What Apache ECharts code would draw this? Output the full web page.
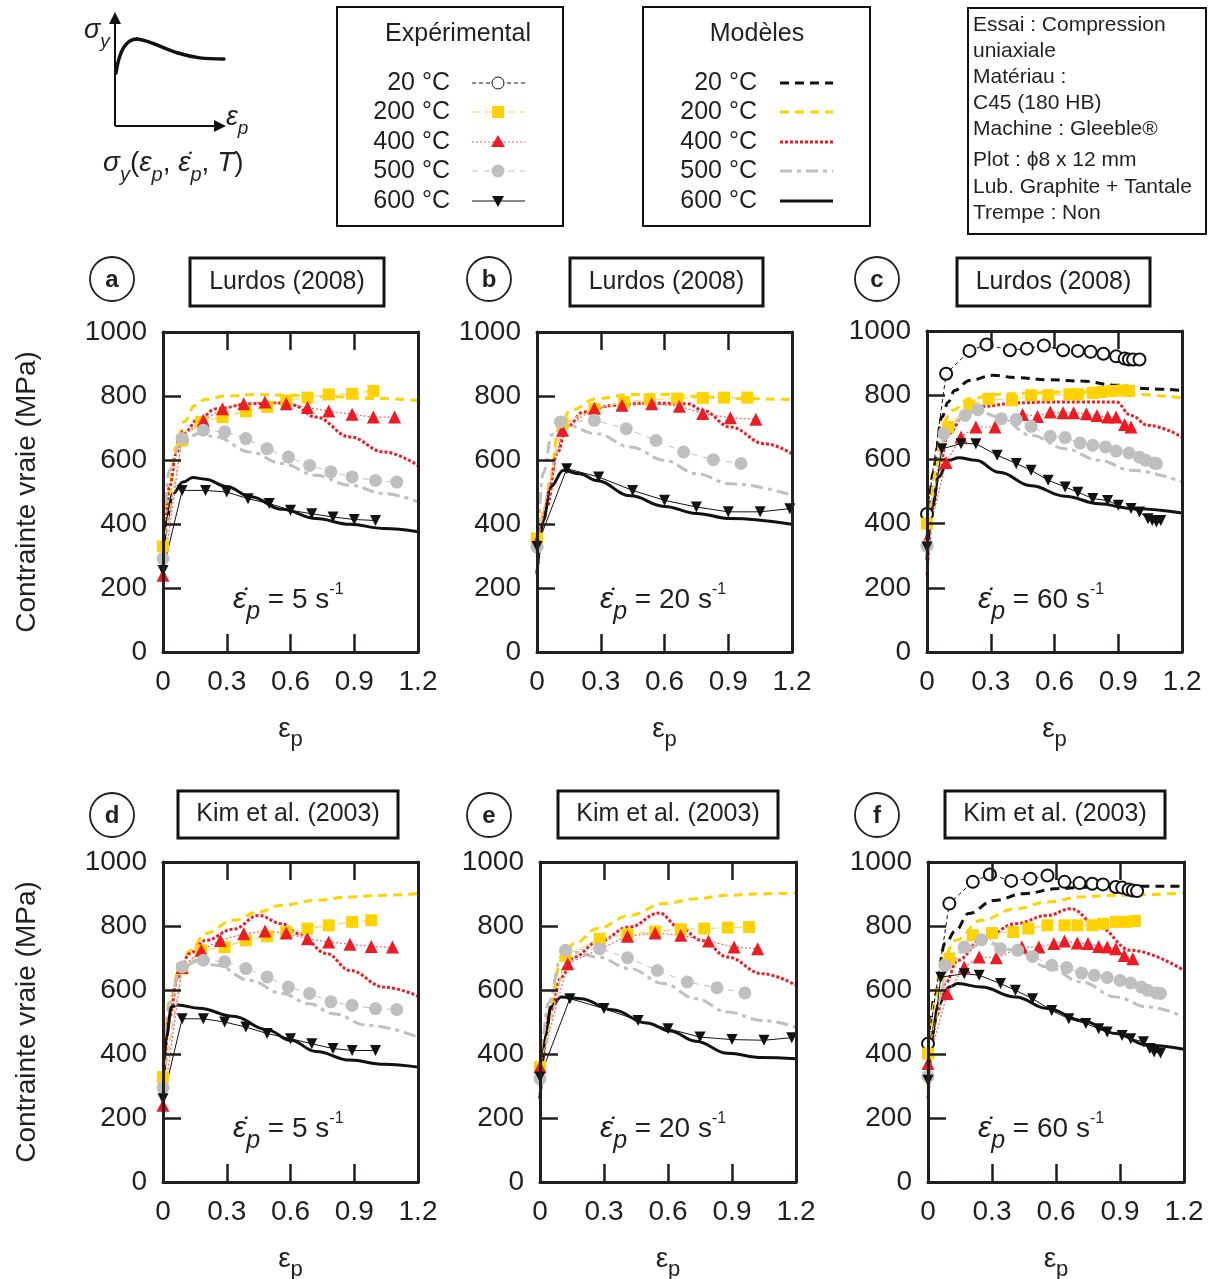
<!DOCTYPE html>
<html><head><meta charset="utf-8">
<script src="https://cdn.jsdelivr.net/npm/echarts@6/dist/echarts.min.js"></script>
<style>html,body{margin:0;padding:0;background:#fff}#c{position:relative;width:1220px;height:1279px;background:#fff}</style>
</head><body><div id="c"></div><script>
// ---------- axis ticks ----------
const xMin = 0, xMax = 1.2, xStep = 0.3;
const yMin = 0, yMax = 1000, yStep = 200;
const panelLetters = ['a','b','c','d','e','f'];
const panelTitles = ['Lurdos (2008)','Lurdos (2008)','Lurdos (2008)','Kim et al. (2003)','Kim et al. (2003)','Kim et al. (2003)'];
const strainRates = ['5','20','60','5','20','60'];
const temps = ['20 °C','200 °C','400 °C','500 °C','600 °C'];
const yAxisTitle = 'Contrainte vraie (MPa)';

// ---------- panel a (Lurdos, 5 s-1) ----------
const a_exp200 = [[0,330],[0.09,661],[0.18,719],[0.28,734],[0.39,752],[0.49,766],[0.58,786],[0.68,795],[0.78,805],[0.89,807],[0.99,816]];
const a_mod200 = [[0,300],[0.03,500],[0.06,640],[0.1,720],[0.15,770],[0.2,790],[0.3,800],[0.45,805],[0.6,802],[0.8,798],[1.0,792],[1.2,786]];
const a_exp400 = [[0,240],[0.09,675],[0.19,724],[0.28,760],[0.38,776],[0.48,781],[0.58,776],[0.68,764],[0.78,753],[0.89,743],[0.99,734],[1.09,734]];
const a_mod400 = [[0,240],[0.03,515],[0.063,620],[0.094,682],[0.17,729],[0.25,760],[0.41,776],[0.56,778],[0.61,772],[0.72,734],[0.88,672],[1.04,625],[1.2,583]];
const a_exp500 = [[0,292],[0.09,667],[0.19,693],[0.29,688],[0.39,667],[0.49,635],[0.59,609],[0.69,583],[0.79,563],[0.89,547],[1.0,536],[1.1,531]];
const a_mod500 = [[0,300],[0.03,568],[0.08,651],[0.17,682],[0.25,672],[0.41,625],[0.56,589],[0.72,552],[0.88,521],[1.04,495],[1.2,469]];
const a_exp600 = [[0,255],[0.09,505],[0.2,505],[0.3,500],[0.4,479],[0.5,464],[0.6,443],[0.7,432],[0.8,422],[0.9,414],[1.0,411]];
const a_mod600 = [[0,260],[0.016,411],[0.047,495],[0.094,531],[0.14,545],[0.2,540],[0.3,517],[0.41,486],[0.56,446],[0.72,417],[0.88,399],[1.04,386],[1.2,376]];

// ---------- panel b (Lurdos, 20 s-1) ----------
const b_exp200 = [[0,355],[0.12,714],[0.27,760],[0.41,781],[0.53,789],[0.66,792],[0.78,794],[0.88,795],[0.99,795]];
const b_mod200 = [[0,320],[0.04,450],[0.063,547],[0.1,693],[0.157,755],[0.28,792],[0.44,805],[0.6,805],[0.75,799],[0.91,792],[1.2,789]];
const b_exp400 = [[0,345],[0.12,693],[0.27,762],[0.4,771],[0.54,776],[0.67,768],[0.78,745],[0.91,732],[1.03,727]];
const b_mod400 = [[0,245],[0.047,453],[0.094,620],[0.14,703],[0.22,750],[0.36,771],[0.52,778],[0.71,776],[0.78,755],[0.91,703],[1.07,651],[1.2,620]];
const b_exp500 = [[0,328],[0.11,719],[0.27,724],[0.42,698],[0.56,661],[0.69,625],[0.83,601],[0.96,589]];
const b_mod500 = [[0,300],[0.03,560],[0.07,680],[0.14,708],[0.28,682],[0.44,641],[0.6,599],[0.75,557],[0.91,526],[1.2,490]];
const b_exp600 = [[0,330],[0.14,573],[0.29,547],[0.45,505],[0.6,474],[0.75,453],[0.9,438],[1.05,438],[1.19,448]];
const b_mod600 = [[0,245],[0.03,411],[0.063,516],[0.125,568],[0.2,557],[0.28,536],[0.44,488],[0.6,455],[0.75,433],[0.91,417],[1.2,399]];

// ---------- panel c (Lurdos, 60 s-1) ----------
const c_exp20 = [[0,430],[0.09,867],[0.2,938],[0.28,958],[0.39,940],[0.47,945],[0.55,955],[0.64,940],[0.71,938],[0.77,935],[0.83,929],[0.89,921],[0.93,914],[0.95,911],[0.97,911],[1.0,911]];
const c_mod20 = [[0,350],[0.03,560],[0.07,732],[0.1,779],[0.13,815],[0.2,846],[0.31,862],[0.42,855],[0.57,848],[0.73,844],[0.89,831],[1.04,820],[1.2,815]];
const c_exp200 = [[0,400],[0.1,701],[0.2,768],[0.29,789],[0.4,784],[0.49,800],[0.57,800],[0.67,803],[0.71,803],[0.78,807],[0.82,810],[0.87,813],[0.92,815],[0.95,813]];
const c_mod200 = [[0,300],[0.04,560],[0.07,711],[0.12,753],[0.2,789],[0.34,803],[0.49,807],[0.65,810],[0.81,810],[0.96,803],[1.2,792]];
const c_exp400 = [[0,350],[0.09,590],[0.16,670],[0.23,701],[0.32,701],[0.45,740],[0.52,734],[0.58,748],[0.64,745],[0.69,745],[0.75,742],[0.8,737],[0.85,732],[0.89,732],[0.93,709],[0.96,701]];
const c_mod400 = [[0,240],[0.03,450],[0.055,566],[0.1,680],[0.18,742],[0.26,765],[0.42,776],[0.57,779],[0.73,779],[0.89,779],[0.96,737],[1.04,706],[1.2,670]];
const c_exp500 = [[0,330],[0.08,680],[0.18,737],[0.24,755],[0.35,727],[0.42,724],[0.49,703],[0.58,672],[0.65,668],[0.72,651],[0.78,644],[0.84,639],[0.89,626],[0.95,620],[1.0,607],[1.03,597],[1.07,589],[1.08,587]];
const c_mod500 = [[0,280],[0.04,520],[0.086,680],[0.15,722],[0.23,753],[0.34,732],[0.49,675],[0.65,633],[0.81,597],[0.96,566],[1.2,530]];
const c_exp600 = [[0,327],[0.07,633],[0.16,649],[0.23,649],[0.33,613],[0.42,587],[0.49,566],[0.57,535],[0.65,514],[0.71,498],[0.78,478],[0.85,472],[0.9,457],[0.96,447],[1.0,436],[1.04,415],[1.06,410],[1.08,405],[1.1,410]];
const c_mod600 = [[0,286],[0.024,452],[0.055,545],[0.1,597],[0.15,605],[0.23,597],[0.34,560],[0.49,518],[0.65,485],[0.81,462],[0.96,447],[1.2,433]];

// ---------- panel d (Kim, 5 s-1) ----------
const d_exp200 = [[0,328],[0.09,667],[0.18,724],[0.29,734],[0.39,755],[0.49,768],[0.58,781],[0.68,792],[0.78,802],[0.89,813],[0.98,818]];
const d_mod200 = [[0,300],[0.03,568],[0.08,672],[0.13,724],[0.2,776],[0.33,818],[0.45,844],[0.56,865],[0.72,880],[0.88,891],[1.04,896],[1.2,901]];
const d_exp400 = [[0,240],[0.09,670],[0.18,724],[0.27,755],[0.38,776],[0.48,784],[0.58,778],[0.68,760],[0.78,750],[0.88,743],[0.98,736],[1.08,734]];
const d_mod400 = [[0,240],[0.03,515],[0.07,641],[0.125,714],[0.2,755],[0.33,790],[0.45,833],[0.56,807],[0.64,776],[0.77,714],[0.88,661],[1.04,609],[1.2,581]];
const d_exp500 = [[0,295],[0.09,672],[0.19,693],[0.29,688],[0.39,667],[0.49,641],[0.59,609],[0.69,589],[0.79,563],[0.89,552],[1.0,542],[1.1,539]];
const d_mod500 = [[0,290],[0.03,560],[0.08,661],[0.16,693],[0.25,677],[0.41,630],[0.56,589],[0.69,557],[0.8,526],[0.96,490],[1.2,453]];
const d_exp600 = [[0,260],[0.09,510],[0.19,510],[0.29,500],[0.39,484],[0.49,464],[0.6,448],[0.7,432],[0.8,417],[0.89,411],[1.0,411]];
const d_mod600 = [[0,260],[0.016,453],[0.04,547],[0.07,553],[0.17,543],[0.33,518],[0.49,476],[0.6,443],[0.72,408],[0.88,381],[1.04,368],[1.2,359]];

// ---------- panel e (Kim, 20 s-1) ----------
const e_exp200 = [[0,359],[0.12,708],[0.28,760],[0.41,774],[0.54,783],[0.66,790],[0.77,792],[0.88,795],[0.98,797]];
const e_mod200 = [[0,320],[0.04,520],[0.1,693],[0.16,745],[0.27,792],[0.42,833],[0.58,870],[0.73,885],[0.88,896],[1.04,901],[1.2,903]];
const e_exp400 = [[0,359],[0.13,682],[0.41,768],[0.54,778],[0.66,771],[0.79,753],[0.91,734],[1.02,729]];
const e_mod400 = [[0,260],[0.05,536],[0.1,641],[0.16,703],[0.27,750],[0.42,797],[0.56,841],[0.65,797],[0.76,755],[0.88,703],[1.04,651],[1.2,615]];
const e_exp500 = [[0,323],[0.12,724],[0.28,729],[0.41,701],[0.55,661],[0.69,625],[0.83,607],[0.96,591]];
const e_mod500 = [[0,300],[0.04,560],[0.1,703],[0.16,719],[0.27,703],[0.42,667],[0.58,620],[0.73,573],[0.88,531],[1.04,505],[1.2,484]];
const e_exp600 = [[0,328],[0.14,573],[0.3,542],[0.46,505],[0.6,479],[0.75,453],[0.9,445],[1.05,443],[1.18,451]];
const e_mod600 = [[0,260],[0.03,464],[0.05,547],[0.1,578],[0.19,573],[0.34,538],[0.5,497],[0.61,472],[0.73,440],[0.88,402],[1.04,389],[1.2,385]];

// ---------- panel f (Kim, 60 s-1) ----------
const f_exp20 = [[0,432],[0.1,870],[0.21,938],[0.29,961],[0.39,941],[0.48,948],[0.56,958],[0.64,938],[0.71,934],[0.77,932],[0.82,930],[0.88,922],[0.91,920],[0.94,914],[0.96,911],[0.98,909]];
const f_mod20 = [[0,350],[0.03,580],[0.08,745],[0.13,786],[0.19,839],[0.31,880],[0.45,901],[0.61,917],[0.77,922],[0.95,924],[1.2,924]];
const f_exp200 = [[0,401],[0.1,698],[0.21,771],[0.3,778],[0.4,781],[0.47,792],[0.56,802],[0.64,802],[0.7,802],[0.77,802],[0.82,807],[0.88,813],[0.93,813],[0.97,816]];
const f_mod200 = [[0,300],[0.03,560],[0.065,693],[0.13,755],[0.25,818],[0.41,854],[0.56,875],[0.72,891],[0.88,896],[1.2,903]];
const f_exp400 = [[0,370],[0.09,589],[0.17,672],[0.24,703],[0.32,701],[0.44,734],[0.52,734],[0.59,745],[0.64,753],[0.7,747],[0.75,745],[0.8,736],[0.84,734],[0.88,729],[0.92,708],[0.96,698]];
const f_mod400 = [[0,260],[0.04,520],[0.08,620],[0.14,693],[0.25,755],[0.41,807],[0.56,833],[0.67,854],[0.8,797],[0.95,724],[1.2,661]];
const f_exp500 = [[0,330],[0.08,677],[0.17,734],[0.25,757],[0.34,729],[0.42,724],[0.49,705],[0.58,677],[0.65,670],[0.72,653],[0.78,646],[0.84,639],[0.9,630],[0.95,622],[1.0,609],[1.03,599],[1.07,591],[1.09,589]];
const f_mod500 = [[0,280],[0.04,540],[0.1,682],[0.17,724],[0.27,750],[0.41,724],[0.56,672],[0.72,625],[0.88,578],[1.03,547],[1.2,516]];
const f_exp600 = [[0,318],[0.06,640],[0.17,651],[0.24,646],[0.34,620],[0.41,599],[0.49,573],[0.58,536],[0.66,510],[0.74,495],[0.8,479],[0.84,469],[0.91,458],[0.95,448],[1.01,438],[1.04,417],[1.06,406],[1.09,403]];
const f_mod600 = [[0,307],[0.02,464],[0.05,557],[0.1,609],[0.14,620],[0.25,609],[0.41,578],[0.56,542],[0.72,505],[0.88,464],[1.03,427],[1.2,415]];

// panel -> list of [temperature index, experimental, model]
const panelData = [
  [[1,a_exp200,a_mod200],[2,a_exp400,a_mod400],[3,a_exp500,a_mod500],[4,a_exp600,a_mod600]],
  [[1,b_exp200,b_mod200],[2,b_exp400,b_mod400],[3,b_exp500,b_mod500],[4,b_exp600,b_mod600]],
  [[0,c_exp20,c_mod20],[1,c_exp200,c_mod200],[2,c_exp400,c_mod400],[3,c_exp500,c_mod500],[4,c_exp600,c_mod600]],
  [[1,d_exp200,d_mod200],[2,d_exp400,d_mod400],[3,d_exp500,d_mod500],[4,d_exp600,d_mod600]],
  [[1,e_exp200,e_mod200],[2,e_exp400,e_mod400],[3,e_exp500,e_mod500],[4,e_exp600,e_mod600]],
  [[0,f_exp20,f_mod20],[1,f_exp200,f_mod200],[2,f_exp400,f_mod400],[3,f_exp500,f_mod500],[4,f_exp600,f_mod600]]
];

// ---------- styles / layout ----------
const FONT = '"Liberation Sans", Arial, Helvetica, sans-serif';
const INK = '#231F20';
const YEL = '#FFD200', RED = '#ED1C24', GRY = '#BFBFBF', BLK = '#111111';
const EXP = [
  {symbol:'emptyCircle', size:12, rot:0, color:BLK, lc:BLK, lw:1, lt:[4,3]},
  {symbol:'rect', size:12, rot:0, color:YEL, lc:'#F5DA5A', lw:1.2, lt:[8,4]},
  {symbol:'triangle', size:13, rot:0, color:RED, lc:'#F26167', lw:1.2, lt:[2,2]},
  {symbol:'circle', size:13, rot:0, color:GRY, lc:GRY, lw:1, lt:[6,6]},
  {symbol:'triangle', size:11, rot:180, color:BLK, lc:BLK, lw:1, lt:'solid'}
];
const MOD = [
  {color:BLK, type:[9,6]},
  {color:YEL, type:[9,6]},
  {color:RED, type:[3,2]},
  {color:GRY, type:[12,5,4,5]},
  {color:BLK, type:'solid'}
];
const grids = [
  {left:163, top:332, width:255, height:320},
  {left:537, top:332, width:255, height:320},
  {left:927, top:331, width:255, height:321},
  {left:163, top:862, width:255, height:320},
  {left:540, top:862, width:256, height:320},
  {left:928, top:862, width:256, height:320}
];

const root = document.getElementById('c');
function layer() {
  const d = document.createElement('div');
  d.style.cssText = 'position:absolute;left:0;top:0;width:1220px;height:1279px;pointer-events:none';
  root.appendChild(d);
  return echarts.init(d, null, {renderer:'canvas', width:1220, height:1279});
}
const mkLine = () => ({show:true, onZero:false, lineStyle:{color:INK, width:3}});
const mkTick = () => ({show:true, inside:true, length:18, lineStyle:{color:INK, width:2.5}});
const numFmt = v => String(Math.round(v * 10) / 10);

grids.forEach((g, i) => {
  // data layer: series on hidden axes of the same scale
  const series = [];
  panelData[i].forEach(([t, exp, mod]) => {
    const m = MOD[t];
    series.push({type:'line', name:'Modèle '+temps[t], data:mod,
      smooth:0.4, smoothMonotone:'x', showSymbol:false, symbol:'none', z:3,
      lineStyle:{color:m.color, width:3, type:m.type}});
    const s = EXP[t];
    series.push({type:'line', name:'Exp '+temps[t], data:exp,
      symbol:s.symbol, symbolSize:s.size, symbolRotate:s.rot, showAllSymbol:true, z:4,
      itemStyle:{color:s.color, borderColor:s.color, borderWidth:s.symbol==='emptyCircle'?1:0},
      lineStyle:{color:s.lc, width:s.lw, type:s.lt}});
  });
  layer().setOption({
    animation:false, backgroundColor:'transparent',
    grid:[Object.assign({}, g)],
    xAxis:[{type:'value', min:xMin, max:xMax, interval:xStep, show:false}],
    yAxis:[{type:'value', min:yMin, max:yMax, interval:yStep, show:false}],
    series:series
  });
  // axis layer: frame, inner ticks and tick labels
  layer().setOption({
    animation:false, backgroundColor:'transparent', textStyle:{fontFamily:FONT},
    grid:[Object.assign({}, g)],
    xAxis:[
      {type:'value', min:xMin, max:xMax, interval:xStep, position:'bottom',
       axisLine:mkLine(), axisTick:mkTick(), splitLine:{show:false},
       axisLabel:{fontSize:28, color:INK, margin:16, formatter:numFmt}},
      {type:'value', min:xMin, max:xMax, interval:xStep, position:'top',
       axisLine:mkLine(), axisTick:mkTick(), axisLabel:{show:false}, splitLine:{show:false}}
    ],
    yAxis:[
      {type:'value', min:yMin, max:yMax, interval:yStep, position:'left',
       axisLine:mkLine(), axisTick:mkTick(), splitLine:{show:false},
       axisLabel:{fontSize:28, color:INK, margin:16, formatter:v => String(v)}},
      {type:'value', min:yMin, max:yMax, interval:yStep, position:'right',
       axisLine:mkLine(), axisTick:{show:false}, axisLabel:{show:false}, splitLine:{show:false}}
    ]
  });
});

// ---------- overlay layer: boxes, legends, labels ----------
const G = [];
function txt(x, y, text, size, opts) {
  G.push({type:'text', x:x, y:y, z:10,
    style:Object.assign({text:text, fill:INK, font:size+'px '+FONT, align:'left', verticalAlign:'middle'}, opts||{})});
}
const letterPos = [[112,279],[489,279],[877,279],[112,815],[489,815],[877,815]];
const titleBox = [[190,258,194,48],[570,258,193,48],[957,258,193,48],[178,791,220,47],[558,791,220,47],[945,791,220,47]];
const annotPos = [[233,594],[600,594],[978,594],[233,1123],[600,1123],[978,1123]];
for (let i = 0; i < 6; i++) {
  const g = grids[i];
  const [cx, cy] = letterPos[i];
  G.push({type:'circle', z:10, shape:{cx:cx, cy:cy, r:22}, style:{fill:'#fff', stroke:INK, lineWidth:1.8}});
  txt(cx, cy+1, panelLetters[i], 24, {align:'center', font:'bold 24px '+FONT});
  const [bx, by, bw, bh] = titleBox[i];
  G.push({type:'rect', z:10, shape:{x:bx, y:by, width:bw, height:bh}, style:{fill:'#fff', stroke:BLK, lineWidth:3}});
  txt(bx+bw/2, by+bh/2, panelTitles[i], 25, {align:'center'});
  const [ax, ay] = annotPos[i];
  G.push({type:'text', z:10, x:ax, y:ay+6, style:{
    text:'{e|ε̇}{p|p}{t| = '+strainRates[i]+' s}{s|-1}', align:'left', verticalAlign:'middle',
    rich:{
      e:{font:'italic 30px '+FONT, fill:INK, lineHeight:30, verticalAlign:'middle'},
      p:{font:'italic 25px '+FONT, fill:INK, lineHeight:50, verticalAlign:'bottom'},
      t:{font:'28px '+FONT, fill:INK, lineHeight:30, verticalAlign:'middle'},
      s:{font:'16px '+FONT, fill:INK, verticalAlign:'top', padding:[7,0,0,0]}
    }}});
  // x-axis title εp under each panel
  G.push({type:'text', z:10, x:g.left + g.width/2, y:g.top + g.height + 77, style:{
    text:'{e|ε}{p|p}', align:'center', verticalAlign:'middle',
    rich:{e:{font:'28px '+FONT, fill:INK, lineHeight:28, verticalAlign:'middle'},
          p:{font:'22px '+FONT, fill:INK, lineHeight:44, verticalAlign:'bottom'}}}});
  // y-axis title on the left column
  if (i === 0 || i === 3) {
    G.push({type:'text', z:10, x:27, y:g.top + g.height/2, rotation:Math.PI/2, style:{
      text:yAxisTitle, fill:INK, font:'28px '+FONT, align:'center', verticalAlign:'middle'}});
  }
}
G.push({type:'rect', z:10, shape:{x:337, y:7, width:226, height:219}, style:{fill:'#fff', stroke:BLK, lineWidth:2}});
G.push({type:'rect', z:10, shape:{x:643, y:7, width:227, height:219}, style:{fill:'#fff', stroke:BLK, lineWidth:2}});
txt(458, 34, 'Expérimental', 25, {align:'center'});
txt(757, 34, 'Modèles', 25, {align:'center'});
const rowY = [83, 112, 142, 171, 201];
temps.forEach((t, k) => {
  const y = rowY[k];
  txt(450, y, t, 25, {align:'right'});
  txt(757, y, t, 25, {align:'right'});
  const s = EXP[k];
  G.push({type:'line', z:11, shape:{x1:472, y1:y, x2:525, y2:y}, style:{stroke:s.lc, lineWidth:1, lineDash:s.lt==='solid'?null:s.lt}});
  const mx = 498;
  if (k === 0) G.push({type:'circle', z:12, shape:{cx:mx, cy:y, r:6}, style:{fill:'#fff', stroke:BLK, lineWidth:1}});
  if (k === 1) G.push({type:'rect', z:12, shape:{x:mx-6, y:y-6, width:12, height:12}, style:{fill:YEL}});
  if (k === 2) G.push({type:'polygon', z:12, shape:{points:[[mx,y-7],[mx+7,y+5],[mx-7,y+5]]}, style:{fill:RED}});
  if (k === 3) G.push({type:'circle', z:12, shape:{cx:mx, cy:y, r:6.5}, style:{fill:GRY}});
  if (k === 4) G.push({type:'polygon', z:12, shape:{points:[[mx-6,y-5],[mx+6,y-5],[mx,y+6]]}, style:{fill:BLK}});
  const m = MOD[k];
  G.push({type:'line', z:11, shape:{x1:780, y1:y, x2:833, y2:y}, style:{stroke:m.color, lineWidth:3, lineDash:m.type==='solid'?null:m.type}});
});
G.push({type:'rect', z:10, shape:{x:968, y:8, width:238, height:226}, style:{fill:'#fff', stroke:BLK, lineWidth:2}});
const infoLines = ['Essai : Compression','uniaxiale','Matériau :','C45 (180 HB)','Machine : Gleeble®','Plot : ϕ8 x 12 mm','Lub. Graphite + Tantale','Trempe : Non'];
const infoY = [25, 51, 77, 103, 129, 160, 187, 213];
infoLines.forEach((l, k) => txt(973, infoY[k], l, 21));
// schematic sketch (top-left)
G.push({type:'line', z:10, shape:{x1:115, y1:126, x2:115, y2:20}, style:{stroke:BLK, lineWidth:2}});
G.push({type:'polygon', z:10, shape:{points:[[109,24],[121,24],[115,12]]}, style:{fill:BLK}});
G.push({type:'line', z:10, shape:{x1:115, y1:126, x2:218, y2:126}, style:{stroke:BLK, lineWidth:2}});
G.push({type:'polygon', z:10, shape:{points:[[214,120],[214,132],[226,126]]}, style:{fill:BLK}});
const curveSegs = [
  [116,73, 119,52, 126,39, 137,39],
  [137,39, 150,40, 163,49, 178,53],
  [178,53, 194,58, 205,59, 224,59]
];
curveSegs.forEach(c => G.push({type:'bezierCurve', z:10,
  shape:{x1:c[0], y1:c[1], cpx1:c[2], cpy1:c[3], cpx2:c[4], cpy2:c[5], x2:c[6], y2:c[7]},
  style:{fill:null, stroke:BLK, lineWidth:3.5, lineCap:'round'}}));
const it = (s, lh, va) => ({font:'italic '+s+'px '+FONT, fill:INK, lineHeight:lh, verticalAlign:va});
G.push({type:'text', z:10, x:84, y:30, style:{text:'{a|σ}{b|y}', align:'left', verticalAlign:'middle',
  rich:{a:it(27,27,'middle'), b:it(19,42,'bottom')}}});
G.push({type:'text', z:10, x:226, y:117, style:{text:'{a|ε}{b|p}', align:'left', verticalAlign:'middle',
  rich:{a:it(27,27,'middle'), b:it(19,42,'bottom')}}});
G.push({type:'text', z:10, x:103, y:163, style:{text:'{a|σ}{b|y}{n|(}{a|ε}{b|p}{n|, }{a|ε̇}{b|p}{n|, }{a|T}{n|)}', align:'left', verticalAlign:'middle',
  rich:{a:it(28,28,'middle'), b:it(20,44,'bottom'),
        n:{font:'28px '+FONT, fill:INK, lineHeight:28, verticalAlign:'middle'}}}});

layer().setOption({animation:false, backgroundColor:'transparent', graphic:G});
</script></body></html>
